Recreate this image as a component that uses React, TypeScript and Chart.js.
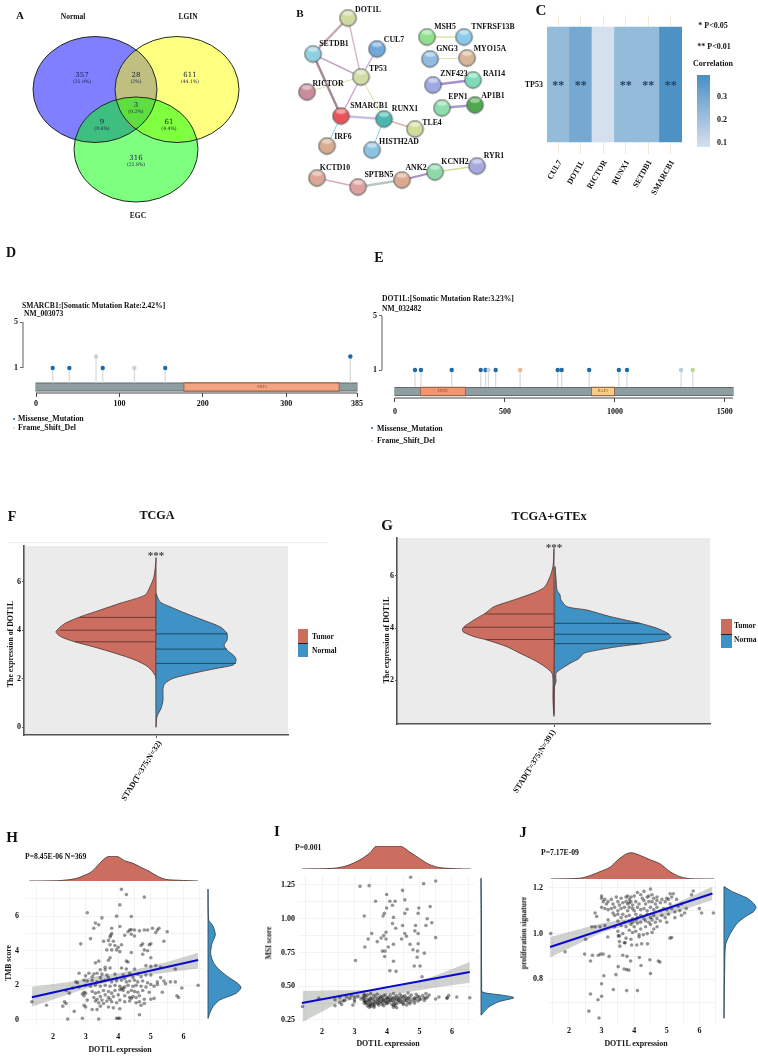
import React, { useEffect, useRef } from "react";
import { Chart, registerables } from "chart.js";

Chart.register(...registerables);

const W = 758;
const H = 1058;
const SERIF = "'Liberation Serif', serif";
const TUMOR = "#cc6e5f";
const NORMAL = "#3e92c6";

/* ---------- A: Venn ---------- */
const vennSets = ["Normal", "LGIN", "EGC"];
const vennCx = [95, 177, 136];
const vennCy = [89.5, 89.5, 149.5];
const vennRx = [62, 62, 62];
const vennRy = [53, 53, 52.5];
const vennFill = ["rgba(0,0,255,.5)", "rgba(255,255,0,.5)", "rgba(0,255,0,.5)"];
const vennCounts = ["357", "28", "611", "3", "9", "61", "316"];
const vennPct = ["(25.9%)", "(2%)", "(44.1%)", "(0.2%)", "(0.6%)", "(4.4%)", "(22.8%)"];
const vennLabelX = [82, 136, 190, 136, 102, 169, 136];
const vennLabelY = [75, 75, 75, 105, 122, 122, 158];

/* ---------- B: network ---------- */
const nodeNames = ["DOT1L", "SETDB1", "CUL7", "TP53", "RICTOR", "SMARCB1", "RUNX1", "TLE4", "IRF6", "HISTH2AD", "KCTD10", "SPTBN5", "ANK2", "KCNH2", "RYR1", "MSH5", "TNFRSF13B", "GNG3", "MYO15A", "ZNF423", "RAI14", "EPN1", "AP1B1"];
const nodeX = [348, 313, 377, 361, 307, 341, 384, 415, 327, 372, 317, 358, 402, 435, 477, 427, 464, 430, 467, 433, 473, 442, 475];
const nodeY = [18, 54, 49, 77, 92, 116, 119, 129, 146, 150, 178, 187, 180, 172, 166, 37, 37, 59, 58, 85, 80, 108, 105];
const nodeColor = ["#cfd9a0", "#8fd0de", "#6fa9dc", "#cfdca5", "#c98c9a", "#e9545c", "#49b7b0", "#cfdc9a", "#d8aa90", "#8cc3e0", "#dba695", "#dca0a0", "#dda890", "#8fd8a8", "#a8a8e0", "#90e090", "#8cc8ea", "#90bce0", "#d8b498", "#a0a8e4", "#7fdcb8", "#8fdcac", "#4ea84e"];
const nodeLabelX = [368, 334, 394, 378, 328, 369, 405, 432, 343, 399, 335, 379, 416, 455, 494, 445, 493, 447, 490, 454, 494, 458, 493];
const nodeLabelY = [10, 44, 40, 69, 84, 106, 109, 123, 137, 142, 168, 175, 168, 162, 156, 27, 27, 49, 49, 74, 74, 97, 96];
const edgeFrom = [0, 0, 1, 2, 1, 4, 3, 3, 5, 6, 5, 6, 10, 11, 12, 13, 15, 17, 19, 21];
const edgeTo = [1, 3, 3, 3, 5, 3, 5, 6, 6, 7, 8, 9, 11, 12, 13, 14, 16, 18, 20, 22];
const edgeColor = ["#c9a7b8", "#d8b4cf", "#c6a6c9", "#d4a9d0", "#a58a9a", "#d8e3a8", "#cfa9cc", "#dfe3a0", "#c9bfe0", "#d7b7a6", "#7fd0e0", "#7fd0e0", "#d9aab8", "#b9c8bc", "#a88fc8", "#d2dc9c", "#d8e4a8", "#dde4a6", "#a58fcf", "#a99bd0"];
const edgeWidth = [2.5, 1.4, 1.4, 1.4, 2.5, 1, 1.4, 1, 2.5, 1.6, 1, 1, 1.4, 2.5, 2.2, 1.4, 1.4, 1, 2.5, 2.5];

/* ---------- C: heatmap ---------- */
const heatGenes = ["CUL7", "DOT1L", "RICTOR", "RUNX1", "SETDB1", "SMARCB1"];
const heatCorr = [0.22, 0.285, 0.085, 0.22, 0.22, 0.37];
const heatStars = ["**", "**", "", "**", "**", "**"];
const heatRow = "TP53";
const corrTicks = [0.1, 0.2, 0.3];

/* ---------- D, E: lollipops ---------- */
const dPos = [20, 40, 72, 80, 118, 155, 377];
const dCount = [1, 1, 2, 1, 1, 1, 2];
const dColor = ["#1f6aa5", "#1f6aa5", "#c9d3d6", "#1f6aa5", "#c9d3d6", "#1f6aa5", "#1f6aa5"];
const dTicks = [0, 100, 200, 300, 385];
const dDomains = [[178, 363]];
const dDomainNames = ["SNF5"];
const dDomainColors = ["#f4a482"];

const ePos = [91, 118, 258, 390, 412, 425, 458, 569, 740, 758, 883, 1018, 1055, 1301, 1354];
const eCount = [1, 1, 1, 1, 1, 1, 1, 1, 1, 1, 1, 1, 1, 1, 1];
const eColor = ["#1f6aa5", "#1f6aa5", "#1f6aa5", "#1f6aa5", "#1f6aa5", "#b9d0e4", "#1f6aa5", "#f3b48a", "#1f6aa5", "#1f6aa5", "#1f6aa5", "#1f6aa5", "#1f6aa5", "#b4cbe4", "#b4d890"];
const eTicks = [0, 500, 1000, 1500];
const eDomains = [[118, 318], [896, 996]];
const eDomainNames = ["DOT1", "RAP1"];
const eDomainColors = ["#f19470", "#f6cd87"];

/* ---------- F, G: violins ---------- */
const fTumorExpr = [7.0, 6.89, 6.21, 5.79, 5.45, 5.11, 4.83, 4.55, 4.28, 3.94, 3.73, 3.52, 3.32, 3.04, 2.77, 2.49, 2.15, 2.0];
const fTumorDensity = [0, 0.0, 0.02, 0.06, 0.11, 0.36, 0.56, 0.76, 0.91, 1.0, 0.95, 0.81, 0.63, 0.4, 0.21, 0.08, 0.01, 0];
const fNormalExpr = [5.52, 5.17, 4.97, 4.69, 4.42, 4.14, 3.87, 3.59, 3.39, 3.18, 2.9, 2.72, 2.56, 2.42, 2.22, 2.01, 1.8, 1.6, 1.11, 0.77, 0.43, 0];
const fNormalDensity = [0, 0.04, 0.14, 0.3, 0.47, 0.64, 0.71, 0.71, 0.68, 0.71, 0.79, 0.8, 0.77, 0.6, 0.37, 0.17, 0.09, 0.07, 0.07, 0.05, 0.01, 0];
const fTumorQ = [4.53, 4.0, 3.52];
const fTumorQw = [0.76, 0.96, 0.81];
const fNormalQ = [3.85, 3.22, 2.63];
const fNormalQw = [0.71, 0.71, 0.8];

const gTumorExpr = [7.06, 6.36, 5.97, 5.59, 5.4, 5.08, 4.82, 4.56, 4.31, 4.01, 3.86, 3.67, 3.54, 3.28, 3.03, 2.77, 2.51, 2.26, 2, 1.23, 0.62];
const gTumorDensity = [0, 0.01, 0.04, 0.09, 0.17, 0.4, 0.6, 0.69, 0.8, 0.91, 0.91, 0.8, 0.67, 0.47, 0.34, 0.2, 0.09, 0.02, 0.01, 0.01, 0];
const gNormalExpr = [6.36, 5.91, 5.46, 5.27, 5.08, 4.82, 4.69, 4.44, 4.18, 3.99, 3.79, 3.64, 3.54, 3.41, 3.28, 3.15, 3.03, 2.83, 2.64, 2.45, 2.26, 1.94, 1.68, 0.72];
const gNormalDensity = [0.01, 0.02, 0.03, 0.06, 0.07, 0.13, 0.33, 0.56, 0.86, 1.03, 1.14, 1.17, 1.12, 0.9, 0.63, 0.43, 0.3, 0.25, 0.16, 0.08, 0.02, 0.02, 0, 0];
const gTumorQ = [4.54, 4.03, 3.56];
const gTumorQw = [0.69, 0.9, 0.68];
const gNormalQ = [4.18, 3.76, 3.4];
const gNormalQw = [0.86, 1.15, 0.88];

/* ---------- H, I, J: scatter ---------- */
const hPoints = [[4.1,7.55],[4.25,7.25],[4.8,7.1],[4.05,6.65],[3.05,6.2],[3.95,6.0],[4.4,5.98],[3.5,5.9],[3.3,5.6],[3.4,5.5],[3.25,5.3],[3.8,5.3],[4.05,5.4],[3.8,5.0],[3.77,4.9],[3.75,4.8],[4.3,5.1],[4.35,5.2],[4.4,5.22],[4.5,5.2],[4.65,5.15],[4.8,5.2],[4.9,5.2],[5.05,5.3],[5.2,5.2],[5.25,5.3],[5.5,5.1],[5.15,5.05],[4.2,4.9],[4.4,4.95],[4.5,4.85],[3.15,4.7],[3.55,4.55],[3.7,4.6],[3.85,4.55],[3.75,4.35],[3.9,4.3],[4.0,4.2],[4.1,4.35],[2.85,4.4],[4.75,4.4],[4.7,4.3],[4.95,4.35],[5.0,4.4],[5.4,4.55],[3.65,4.05],[3.8,4.05],[3.95,4.05],[4.05,3.95],[4.4,3.9],[4.8,4.05],[4.9,4.0],[4.75,3.8],[5.0,3.6],[3.75,3.6],[3.7,3.45],[3.4,3.4],[4.25,3.4],[4.3,3.35],
[3.3,3.3],[3.6,3.05],[3.45,2.9],[3.6,2.9],[3.75,3.0],[4.1,3.0],[4.25,2.95],[4.5,2.95],[4.85,3.15],[5.0,3.1],[5.15,3.15],[5.3,3.05],[5.75,2.95],[3.1,2.7],[3.25,2.65],[3.35,2.7],[3.5,2.65],[3.65,2.6],[3.9,2.65],[4.15,2.6],[4.35,2.7],[4.6,2.65],[4.85,2.6],[2.8,2.7],[3.0,2.55],[3.2,2.5],[3.45,2.45],[3.7,2.45],[3.95,2.4],[4.2,2.4],[4.45,2.45],[4.7,2.5],[5.0,2.6],[5.3,2.45],
[2.7,2.2],[2.75,2.15],[2.95,2.3],[3.05,2.25],[3.2,2.3],[3.35,2.2],[3.5,2.25],[3.6,2.3],[3.8,2.2],[3.95,2.25],[4.1,2.3],[4.25,2.2],[4.35,2.25],[4.5,2.3],[4.6,2.2],[4.75,2.25],[4.9,2.15],[5.2,2.2],[5.4,2.25],[5.6,2.2],[5.75,2.2],[5.0,2.05],[5.2,2.05],[5.45,2.1],[2.4,1.7],[2.6,1.85],[2.8,1.9],[3.0,2.0],[3.15,1.95],[3.3,2.0],[3.45,1.95],[3.6,2.0],[3.75,1.95],[3.9,2.0],[4.05,1.95],[4.15,1.85],[4.2,1.9],[4.3,2.0],[4.45,1.95],[4.55,2.0],[4.7,1.95],[4.85,1.9],[5.1,1.95],[5.95,1.85],[6.45,2.0],
[2.5,1.55],[2.9,1.5],[2.95,1.6],[3.0,1.55],[3.2,1.65],[3.3,1.55],[3.4,1.6],[3.55,1.7],[3.7,1.65],[3.8,1.55],[3.9,1.7],[4.05,1.75],[4.1,1.8],[4.15,1.7],[4.3,1.6],[4.4,1.7],[4.5,1.65],[4.6,1.6],[4.75,1.7],[4.95,1.6],[5.35,1.6],[5.8,1.4],[5.85,1.3],
[2.95,1.4],[3.25,1.3],[3.35,1.2],[3.45,1.35],[3.6,1.45],[3.7,1.3],[3.85,1.35],[4.0,1.45],[4.2,1.4],[4.35,1.3],[4.4,1.25],[4.45,1.35],[4.55,1.3],[4.65,1.4],[4.8,1.2],[5.0,1.2],[5.1,1.25],
[2.35,1.05],[2.4,0.95],[3.05,1.15],[3.3,1.1],[3.4,1.0],[3.5,1.15],[3.55,0.95],[3.65,1.1],[3.75,1.2],[3.8,1.05],[3.95,1.0],[4.05,1.15],[4.2,1.05],[4.35,1.1],[4.55,1.0],[4.65,1.05],[4.7,0.85],[4.8,0.95],[1.35,1.05],[1.8,0.85],[2.3,0.8],
[2.65,0.5],[2.95,0.85],[3.0,0.75],[3.2,0.6],[3.35,0.6],[3.45,0.8],[3.7,0.75],[3.85,0.7],[4.05,0.65],[4.65,0.3],[2.45,0.05],[2.9,0.1],[3.4,0.05],[3.95,0.1],[4.0,0.1],[4.05,0.1]];
const hLineX = [1.35, 6.45];
const hLineY = [1.31, 3.47];
const hBandX = [1.35, 2.5, 3.5, 4, 4.5, 5.5, 6.45];
const hBandUp = [1.92, 2.2, 2.6, 2.7, 2.9, 3.35, 3.88];
const hBandLo = [0.77, 1.5, 2.1, 2.3, 2.5, 2.75, 2.98];
const hTopX = [1.27, 2.1, 2.4, 2.7, 3.12, 3.3, 3.5, 3.68, 3.99, 4.2, 4.45, 4.7, 4.95, 5.2, 5.45, 5.85, 6.45];
const hTopD = [0, 0.01, 0.04, 0.1, 0.33, 0.53, 0.83, 1, 1, 0.83, 0.73, 0.56, 0.4, 0.2, 0.07, 0.03, 0];
const hSideY = [7.56, 5.77, 5.58, 5.29, 4.9, 4.42, 3.85, 3.37, 2.98, 2.5, 2.12, 1.87, 1.54, 1.15, 0.77, 0.38, 0.1];
const hSideD = [0, 0.02, 0.1, 0.18, 0.22, 0.12, 0.08, 0.15, 0.3, 0.6, 0.9, 1, 0.85, 0.35, 0.15, 0.05, 0];

const iPoints = [[4.73,1.307],[5.5,1.28],[5.13,1.26],[3.17,1.24],[3.45,1.245],[4.48,1.21],[3.99,1.18],[4.55,1.14],[3.65,1.13],[4.09,1.13],[4.25,1.13],[4.17,1.1],[3.99,1.08],[4.98,1.08],[5.33,1.09],[4.62,1.07],[4.55,1.04],[4.96,1.04],[3.92,1.04],[3.3,1.02],[3.88,1.02],[4.2,1.01],[5.24,1.0],[5.38,0.97],[5.2,0.95],[4.17,0.965],[4.48,0.95],[4.88,0.95],[4.27,0.93],[4.86,0.91],[3.53,0.89],[3.97,0.9],[4.55,0.89],[4.96,0.89],[3.9,0.875],[3.82,0.857],[3.42,0.85],[3.97,0.85],[4.45,0.85],[4.6,0.87],[5.5,0.86],[3.7,0.83],[4.71,0.81],[4.96,0.815],[4.2,0.81],[3.32,0.79],[4.04,0.79],[3.86,0.76],[3.94,0.76],[4.8,0.77],[4.94,0.76],[5.15,0.745],[3.93,0.72],[4.93,0.715],[4.2,0.685],[3.03,0.69],[4.84,0.65],[5.02,0.65],[4.09,0.615],[4.28,0.61],[5.08,0.57],
[3.3,0.44],[3.5,0.445],[3.7,0.44],[3.95,0.435],[4.2,0.445],[4.4,0.44],[4.65,0.45],[4.9,0.44],[5.2,0.445],
[2.9,0.43],[3.1,0.425],[3.3,0.43],[3.4,0.435],[3.6,0.43],[3.8,0.425],[3.9,0.43],[4.1,0.435],[4.3,0.43],[4.45,0.425],[4.55,0.43],[4.75,0.435],[4.95,0.425],[5.1,0.43],[5.3,0.435],[5.9,0.43],
[2.55,0.415],[2.75,0.42],[3.0,0.42],[3.25,0.415],[3.35,0.42],[3.5,0.415],[3.65,0.42],[3.75,0.415],[3.85,0.42],[4.0,0.415],[4.05,0.42],[4.15,0.415],[4.25,0.42],[4.35,0.415],[4.5,0.42],[4.6,0.415],[4.7,0.42],[4.85,0.415],[5.0,0.42],[5.15,0.415],[5.25,0.42],[5.6,0.42],[5.85,0.415],[6.15,0.42],[6.55,0.415],
[2.85,0.41],[3.2,0.405],[3.3,0.41],[3.45,0.405],[3.55,0.41],[3.7,0.405],[3.8,0.41],[3.9,0.405],[4.0,0.41],[4.1,0.405],[4.2,0.41],[4.3,0.405],[4.4,0.41],[4.55,0.405],[4.65,0.41],[4.8,0.405],[4.9,0.41],[5.05,0.405],[5.2,0.41],[5.5,0.405],[5.85,0.41],
[2.4,0.4],[2.7,0.395],[3.0,0.4],[3.3,0.395],[3.4,0.4],[3.5,0.395],[3.6,0.4],[3.75,0.395],[3.85,0.4],[3.95,0.395],[4.05,0.4],[4.15,0.395],[4.25,0.4],[4.35,0.395],[4.45,0.4],[4.6,0.395],[4.7,0.4],[4.85,0.395],[5.0,0.4],[5.15,0.395],
[2.65,0.39],[3.0,0.385],[3.3,0.39],[3.35,0.385],[3.45,0.39],[3.6,0.385],[3.7,0.39],[3.8,0.385],[3.9,0.39],[4.0,0.385],[4.1,0.39],[4.2,0.385],[4.35,0.39],[4.45,0.385],[4.55,0.39],[4.75,0.385],[4.95,0.39],
[2.55,0.38],[3.3,0.375],[3.4,0.38],[3.5,0.375],[3.65,0.38],[3.75,0.375],[3.85,0.38],[3.95,0.375],[4.05,0.38],[4.25,0.375],[4.4,0.38],[4.5,0.375],[4.65,0.38],[4.85,0.375],
[2.6,0.365],[3.35,0.37],[3.45,0.365],[3.55,0.37],[3.6,0.365],[3.7,0.37],[3.85,0.365],[4.0,0.37],[4.15,0.365],[4.3,0.37],[4.5,0.365],[4.7,0.37],
[2.4,0.355],[2.95,0.36],[3.4,0.355],[3.5,0.36],[3.6,0.355],[3.75,0.36],[3.9,0.355],[4.2,0.36],[4.25,0.355],[4.6,0.36],
[1.4,0.35],[3.45,0.345],[3.5,0.35],[3.6,0.345],[4.2,0.345],[4.3,0.34],[1.9,0.41]];
const iLineX = [1.38, 6.55];
const iLineY = [0.376, 0.605];
const iBandX = [1.4, 2.5, 3.5, 4, 4.5, 5.5, 6.55];
const iBandUp = [0.465, 0.47, 0.47, 0.48, 0.505, 0.58, 0.68];
const iBandLo = [0.235, 0.375, 0.43, 0.44, 0.45, 0.49, 0.525];
const iTopX = [1.385, 2.35, 2.76, 3.17, 3.48, 3.68, 4.4, 4.7, 5.0, 5.3, 5.63, 6.14, 6.58];
const iTopD = [0, 0.03, 0.14, 0.4, 0.71, 1, 1, 0.74, 0.46, 0.2, 0.06, 0.01, 0];
const iSideY = [1.3, 1.0, 0.75, 0.5, 0.46, 0.448, 0.435, 0.415, 0.386, 0.349, 0.311, 0.287];
const iSideD = [0, 0.015, 0.015, 0.02, 0.03, 0.18, 0.6, 1, 0.55, 0.25, 0.09, 0];

const jPoints = [[2.92,0.63],[2.61,0.66],[2.89,0.71],[3.0,0.725],[2.66,0.735],[3.36,0.755],[3.77,0.75],[4.1,0.75],[3.0,0.78],[3.07,0.815],[3.44,0.82],[4.5,0.825],[3.51,0.855],[3.69,0.845],[3.77,0.842],[3.84,0.84],[4.21,0.86],[4.48,0.885],[4.74,0.88],[4.79,0.875],[3.89,0.88],[2.66,0.88],[2.48,0.91],[2.72,0.905],[2.9,0.905],[2.97,0.91],[3.05,0.91],[3.23,0.9],[3.65,0.905],[3.78,0.9],[4.16,0.895],[1.88,0.92],[1.44,1.0],[2.51,0.975],[3.56,0.945],[3.92,0.95],[4.08,0.95],[4.23,0.955],[4.41,0.955],[3.72,0.96],[3.19,0.985],[3.51,0.99],[4.28,0.995],[5.1,0.98],[5.15,0.983],
[6.43,1.09],[6.07,1.09],[5.81,1.187],[5.76,1.17],[6.0,1.11],[5.6,1.11],[5.45,1.08],
[4.3,1.185],[4.5,1.195],[4.1,1.18],[4.55,1.17],[5.1,1.175],[5.2,1.175],[5.15,1.16],
[3.0,1.165],[3.0,1.155],[3.1,1.15],[3.3,1.15],[3.45,1.16],[3.6,1.155],[3.75,1.16],[3.8,1.165],[3.85,1.15],[3.9,1.16],[4.0,1.165],[4.2,1.17],[4.25,1.155],[4.4,1.16],[4.45,1.165],[4.6,1.155],[4.7,1.16],[4.85,1.15],[5.0,1.155],[5.05,1.15],[5.3,1.15],
[3.05,1.14],[3.15,1.13],[3.2,1.14],[3.35,1.13],[3.5,1.14],[3.55,1.125],[3.65,1.135],[3.75,1.14],[3.8,1.13],[3.85,1.135],[3.9,1.14],[3.95,1.125],[4.05,1.14],[4.15,1.13],[4.3,1.145],[4.35,1.13],[4.45,1.14],[4.55,1.14],[4.65,1.13],[4.7,1.145],[4.8,1.135],[4.95,1.14],[5.1,1.13],[5.35,1.12],[5.45,1.13],
[3.0,1.115],[3.1,1.11],[3.2,1.105],[3.3,1.11],[3.4,1.115],[3.5,1.1],[3.6,1.11],[3.7,1.115],[3.8,1.1],[3.85,1.115],[3.95,1.11],[4.0,1.1],[4.1,1.115],[4.2,1.105],[4.3,1.11],[4.4,1.1],[4.5,1.115],[4.6,1.105],[4.7,1.115],[4.8,1.1],[4.9,1.11],[5.0,1.105],[5.15,1.11],[5.25,1.095],[5.4,1.1],[5.55,1.09],[2.8,1.09],[2.85,1.075],[3.35,1.09],
[3.4,1.08],[3.5,1.085],[3.6,1.07],[3.65,1.085],[3.75,1.075],[3.85,1.08],[3.95,1.065],[4.05,1.085],[4.1,1.07],[4.2,1.08],[4.3,1.065],[4.4,1.085],[4.5,1.07],[4.6,1.08],[4.7,1.065],[4.85,1.08],[4.95,1.07],[5.05,1.085],[5.25,1.07],[3.2,1.06],[3.5,1.055],[3.7,1.05],[3.85,1.055],[3.95,1.05],[4.05,1.06],[4.2,1.05],[4.35,1.055],[4.45,1.05],[4.55,1.06],[4.65,1.05],[4.8,1.055],[5.0,1.05],
[2.7,1.03],[2.8,1.03],[2.95,1.03],[3.1,1.035],[3.4,1.03],[3.6,1.035],[3.75,1.03],[3.9,1.04],[4.0,1.03],[4.1,1.045],[4.2,1.02],[4.35,1.03],[4.5,1.04],[4.6,1.02],[4.7,1.03],[3.5,1.01],[3.65,1.0],[3.85,1.015],[3.95,1.005],[4.05,1.01],[4.15,0.995],[4.4,1.0],[4.55,1.005],[3.55,0.99],[3.75,0.98],[3.9,0.975],[3.55,0.965],[3.7,0.96],[4.15,0.985]];
const jLineX = [1.42, 6.4];
const jLineY = [0.941, 1.176];
const jBandX = [1.42, 3, 4, 5, 6.4];
const jBandUp = [0.985, 1.045, 1.07, 1.115, 1.205];
const jBandLo = [0.895, 1.005, 1.045, 1.08, 1.147];
const jTopX = [1.44, 2.34, 2.65, 2.95, 3.26, 3.51, 3.77, 3.94, 4.18, 4.48, 4.79, 5.1, 5.4, 5.71, 6.46];
const jTopD = [0, 0.03, 0.13, 0.28, 0.45, 0.74, 0.96, 1, 0.9, 0.74, 0.58, 0.28, 0.09, 0.01, 0];
const jSideY = [1.206, 1.184, 1.155, 1.133, 1.115, 1.096, 1.074, 1.045, 1.001, 0.957, 0.914, 0.84, 0.767, 0.631];
const jSideD = [0, 0.26, 0.73, 0.92, 1, 0.92, 0.66, 0.41, 0.2, 0.06, 0.03, 0.02, 0.01, 0];
const xExprTicks = [1.5, 2, 2.5, 3, 3.5, 4, 4.5, 5, 5.5, 6, 6.5];

/* ---------- chart plumbing ---------- */
type Rect = { x: number; y: number; w: number; h: number };
const tickFont = (size = 8) => ({ family: SERIF, weight: "bold" as const, size });

function xAxis(r: Rect, min: number | undefined, max: number | undefined, vals: number[] | null, o: any = {}) {
  return {
    type: "linear", min, max, display: true,
    afterFit: (s: any) => { s.height = H - r.y - r.h; },
    afterBuildTicks: (s: any) => { if (vals) s.ticks = vals.map((value) => ({ value })); },
    grid: { display: false, drawTicks: false, ...(o.grid || {}) },
    border: { display: false, ...(o.border || {}) },
    ticks: { display: false, autoSkip: false, maxRotation: 0, font: tickFont(), color: "#111", ...(o.ticks || {}) },
  };
}
function yAxis(r: Rect, min: number, max: number, vals: number[] | null, o: any = {}, right = false) {
  return {
    type: "linear", min, max, display: true, reverse: !!o.reverse,
    position: right ? "right" : "left",
    afterFit: (s: any) => { s.width = right ? W - r.x - r.w : r.x; },
    afterBuildTicks: (s: any) => { if (vals) s.ticks = vals.map((value) => ({ value })); },
    grid: { display: false, drawTicks: false, ...(o.grid || {}) },
    border: { display: false, ...(o.border || {}) },
    ticks: { display: false, autoSkip: false, font: tickFont(), color: "#111", ...(o.ticks || {}) },
  };
}
function base(r: Rect, x: any, y: any, right = false) {
  return {
    responsive: false, animation: false, devicePixelRatio: 1, events: [],
    layout: { autoPadding: false, padding: { top: r.y, bottom: 0, left: right ? r.x : 0, right: right ? 0 : W - r.x - r.w } },
    plugins: { legend: { display: false }, tooltip: { enabled: false } },
    scales: { x, y },
  };
}
const zip = (xs: number[], ys: number[]) => xs.map((x, i) => ({ x, y: ys[i] }));
const seg = (data: any[], color: string, width: number, extra: any = {}) => ({ data, showLine: true, borderColor: color, borderWidth: width, pointRadius: 0, clip: false, ...extra });

/* ---------- chart factories ---------- */
function vennChart() {
  const r = { x: 0, y: 0, w: 260, h: 230 };
  const ellipses = {
    id: "ellipses",
    afterDatasetsDraw(c: any) {
      const { x, y } = c.scales; const ctx = c.ctx;
      const path = (i: number) => {
        ctx.beginPath();
        ctx.ellipse(x.getPixelForValue(vennCx[i]), y.getPixelForValue(vennCy[i]),
          x.getPixelForValue(vennRx[i]) - x.getPixelForValue(0), y.getPixelForValue(vennRy[i]) - y.getPixelForValue(0), 0, 0, 7);
      };
      vennSets.forEach((_, i) => { path(i); ctx.fillStyle = vennFill[i]; ctx.fill(); });
      vennSets.forEach((_, i) => { path(i); ctx.strokeStyle = "#1e2a1e"; ctx.lineWidth = 1; ctx.stroke(); });
    },
  };
  return {
    type: "scatter",
    data: { datasets: [{ data: zip(vennCx, vennCy), pointRadius: 0 }] },
    options: base(r, xAxis(r, 0, 260, null), yAxis(r, 0, 230, null, { reverse: true })),
    plugins: [ellipses],
  };
}

function sprite(color: string) {
  const c = document.createElement("canvas");
  c.width = c.height = 19;
  const g = c.getContext("2d")!;
  g.beginPath(); g.arc(9.5, 9.5, 8.3, 0, 7);
  const rg = g.createRadialGradient(9.5, 8, 1, 9.5, 9.5, 9);
  rg.addColorStop(0, color); rg.addColorStop(0.75, color); rg.addColorStop(1, "#6f7a78");
  g.fillStyle = rg; g.fill();
  g.strokeStyle = "rgba(60,70,70,.75)"; g.lineWidth = 1; g.stroke();
  g.beginPath(); g.ellipse(9.5, 5, 5, 2.4, 0, 0, 7);
  g.fillStyle = "rgba(255,255,255,.45)"; g.fill();
  return c;
}
function networkChart() {
  const r = { x: 260, y: 0, w: 270, h: 210 };
  const sprites = nodeColor.map(sprite);
  const edges = edgeFrom.map((a, i) => seg(
    [{ x: nodeX[a], y: nodeY[a] }, { x: nodeX[edgeTo[i]], y: nodeY[edgeTo[i]] }], edgeColor[i], edgeWidth[i], { order: 2 }));
  return {
    type: "scatter",
    data: {
      datasets: [
        { data: zip(nodeX, nodeY), order: 1, pointStyle: sprites, pointRadius: 9 },
        ...edges,
      ],
    },
    options: base(r, xAxis(r, 260, 530, null), yAxis(r, 0, 210, null, { reverse: true })),
  };
}

const heatShade = (v: number) => {
  const t = (v - 0.08) / 0.3;
  return `rgb(${Math.round(215 - 142 * t)},${Math.round(225 - 82 * t)},${Math.round(240 - 45 * t)})`;
};
function heatChart() {
  const r = { x: 547, y: 15.5, w: 135, h: 138 };
  return {
    type: "bar",
    data: {
      labels: heatGenes,
      datasets: [{
        data: heatGenes.map(() => [0, 1]),
        backgroundColor: heatCorr.map(heatShade),
        barPercentage: 1, categoryPercentage: 1, borderWidth: 0,
      }],
    },
    options: base(r,
      {
        type: "category", display: true,
        afterFit: (s: any) => { s.height = H - r.y - r.h; },
        grid: { display: true, offset: false, drawTicks: false, color: "#f1e8da" },
        border: { display: false },
        ticks: { font: tickFont(8), color: "#111", minRotation: 60, maxRotation: 60, autoSkip: false, padding: 5, labelOffset: 2 },
      },
      yAxis(r, -0.1, 1.1, [0.5], { ticks: { display: true, padding: 4, callback: () => heatRow, font: tickFont(8) } })),
  };
}
function colorbarChart() {
  const r = { x: 697, y: 75, w: 13, h: 72 };
  return {
    type: "bar",
    data: {
      labels: ["Correlation"],
      datasets: [{
        data: [[0.083, 0.396]],
        barPercentage: 1, categoryPercentage: 1, borderWidth: 0,
        backgroundColor: (ctx: any) => {
          const g = ctx.chart.ctx.createLinearGradient(0, r.y + r.h, 0, r.y);
          g.addColorStop(0, heatShade(0.083));
          g.addColorStop(1, heatShade(0.38));
          return g;
        },
      }],
    },
    options: base(r,
      { type: "category", display: true, afterFit: (s: any) => { s.height = H - r.y - r.h; }, grid: { display: false, drawTicks: false }, border: { display: false }, ticks: { display: false } },
      yAxis(r, 0.083, 0.396, corrTicks, { ticks: { display: true, padding: 7, callback: (v: number) => v.toFixed(1), font: tickFont(8) } }, true), true),
  };
}

function lollipop(r: Rect, xMin: number, xMax: number, yMin: number, yMax: number, geneEnd: number, barY: number, stemBase: number, pos: number[], counts: number[], colors: string[], ticks: number[], domains: number[][], domainColors: string[], labelPad: number) {
  const stems: any[] = [];
  pos.forEach((p, i) => { stems.push({ x: p, y: stemBase }, { x: p, y: counts[i] }, { x: null, y: null }); });
  const unit = (xMax - xMin) / r.w;
  const datasets: any[] = [
    { data: pos.map((p, i) => ({ x: p, y: counts[i] })), pointBackgroundColor: colors, pointBorderWidth: 0, pointRadius: 2.2, order: 1, clip: false },
    seg(stems, "#d7dddd", 1.3, { order: 2, spanGaps: false }),
    seg([{ x: xMin, y: 1 }, { x: xMin, y: 5 }], "#777", 1.2, { order: 3 }),
    seg([{ x: 0, y: yMin }, { x: geneEnd, y: yMin }], "#444", 1, { order: 3 }),
  ];
  domains.forEach((d, i) => {
    datasets.push(seg([{ x: d[0], y: barY }, { x: d[1], y: barY }], domainColors[i], 7, { order: 4 }));
    datasets.push(seg([{ x: d[0] - unit, y: barY }, { x: d[1] + unit, y: barY }], "#9a6a4a", 9.5, { order: 5 }));
  });
  datasets.push(seg([{ x: 0, y: barY }, { x: geneEnd, y: barY }], "#8e9ea0", 7, { order: 6 }));
  datasets.push(seg([{ x: -unit * 0.5, y: barY }, { x: geneEnd + unit * 0.5, y: barY }], "#5d6b6d", 9, { order: 7 }));
  return {
    type: "scatter",
    data: { datasets },
    options: base(r,
      xAxis(r, xMin, xMax, ticks, { grid: { display: true, drawOnChartArea: false, drawTicks: true, tickLength: 4, color: "#444" }, ticks: { display: true, padding: labelPad, callback: (v: number) => String(v), font: tickFont(8) } }),
      yAxis(r, yMin, yMax, [1, 5], { grid: { display: true, drawOnChartArea: false, drawTicks: true, tickLength: 3, color: "#666" }, ticks: { display: true, padding: 2, callback: (v: number) => String(v), font: tickFont(8) } })),
  };
}

function violin(r: Rect, xMin: number, xMax: number, yMin: number, yMax: number, label: string, labelShift: number, tE: number[], tD: number[], nE: number[], nD: number[], tQ: number[], tQw: number[], nQ: number[], nQw: number[], yTicks: number[]) {
  const shape = (e: number[], d: number[], side: number, color: string, order: number) => {
    const pts = e.map((y, i) => ({ x: side * d[i], y }));
    return seg([...pts, pts[0]], "#5b3f3c", 0.9, { backgroundColor: color, fill: "shape", tension: 0.25, order, clip: false });
  };
  const quart = (q: number[], w: number[], side: number, color: string) =>
    q.map((y, i) => seg([{ x: 0, y }, { x: side * w[i], y }], color, 1, { order: 1 }));
  const bg = {
    id: "panelBg",
    beforeDraw(c: any) {
      const a = c.chartArea; c.ctx.fillStyle = "#ebebeb"; c.ctx.fillRect(a.left, a.top, a.right - a.left, a.bottom - a.top);
    },
  };
  return {
    type: "scatter",
    data: {
      datasets: [
        ...quart(tQ, tQw, -1, "#6a3a36"),
        ...quart(nQ, nQw, 1, "#1f4a68"),
        shape(tE, tD, -1, TUMOR, 3),
        shape(nE, nD, 1, NORMAL, 2),
      ],
    },
    options: base(r,
      xAxis(r, xMin, xMax, [0], {
        grid: { display: true, drawOnChartArea: false, drawTicks: true, tickLength: 3, color: "#555" },
        border: { display: true, color: "#555", width: 1.6 },
        ticks: { display: true, padding: 1, minRotation: 58, maxRotation: 58, labelOffset: labelShift, callback: () => label, font: tickFont(8) },
      }),
      yAxis(r, yMin, yMax, yTicks, {
        grid: { display: true, drawOnChartArea: false, drawTicks: true, tickLength: 2, color: "#555" },
        border: { display: true, color: "#555", width: 1.6 },
        ticks: { display: true, padding: 1, callback: (v: number) => String(v), font: tickFont(8) },
      })),
    plugins: [bg],
  };
}

function scatterMain(r: Rect, xMin: number, xMax: number, yMin: number, yMax: number, yTicks: number[], yLabel: (v: number) => string, yPad: number, xPad: number, pts: number[][], lx: number[], ly: number[], bx: number[], up: number[], lo: number[]) {
  const gridLine = { display: true, drawTicks: false, color: "#f0f0f0", lineWidth: 0.8 };
  return {
    type: "scatter",
    data: {
      datasets: [
        seg(zip(lx, ly), "#0a0acd", 2, { order: 0 }),
        { data: pts.map(([x, y]) => ({ x, y })), backgroundColor: "rgba(0,0,0,.42)", borderWidth: 0, pointRadius: 1.8, order: 1 },
        seg(zip(bx, up), "rgba(0,0,0,0)", 0, { fill: "+1", backgroundColor: "rgba(110,115,110,.32)", order: 2 }),
        seg(zip(bx, lo), "rgba(0,0,0,0)", 0, { order: 3 }),
      ],
    },
    options: base(r,
      xAxis(r, xMin, xMax, xExprTicks, { grid: gridLine, ticks: { display: true, padding: xPad, callback: (v: number) => (v % 1 === 0 ? String(v) : ""), font: tickFont(8) } }),
      yAxis(r, yMin, yMax, yTicks, { grid: gridLine, ticks: { display: true, padding: yPad, callback: yLabel, font: tickFont(8) } })),
  };
}
function margTop(r: Rect, xMin: number, xMax: number, xs: number[], ds: number[], yMax = 1.03) {
  return {
    type: "scatter",
    data: { datasets: [seg(zip(xs, ds), "#4f3d3a", 0.9, { fill: "origin", backgroundColor: TUMOR, tension: 0.3, clip: true })] },
    options: base(r, xAxis(r, xMin, xMax, null), yAxis(r, 0, yMax, null)),
  };
}
function margSide(r: Rect, yMin: number, yMax: number, ys: number[], ds: number[]) {
  const pts = ys.map((y, i) => ({ x: ds[i], y }));
  return {
    type: "scatter",
    data: { datasets: [seg([...pts, pts[0]], "#2f4858", 0.9, { fill: "shape", backgroundColor: NORMAL, tension: 0.25 })] },
    options: base(r, xAxis(r, 0, 1.03, null), yAxis(r, yMin, yMax, null)),
  };
}

const hMain = { x: 25, y: 885, w: 178, h: 140 };
const iMain = { x: 298, y: 875, w: 176, h: 149 };
const jMain = { x: 548, y: 880, w: 168, h: 143 };

const chartFactories: (() => any)[] = [
  vennChart,
  networkChart,
  heatChart,
  colorbarChart,
  () => lollipop({ x: 23, y: 320, w: 334, h: 73 }, -15.6, 385, -1.174, 5.174, 385, -0.652, -0.304, dPos, dCount, dColor, dTicks, dDomains, dDomainColors, 2),
  () => lollipop({ x: 382, y: 314, w: 351, h: 84 }, -59, 1537, -1.074, 5.148, 1537, -0.593, -0.259, ePos, eCount, eColor, eTicks, eDomains, eDomainColors, 5),
  () => violin({ x: 24, y: 546, w: 264, h: 189 }, -1.32, 1.32, -0.33, 7.48, "STAD(T=375;N=32)", 4, fTumorExpr, fTumorDensity, fNormalExpr, fNormalDensity, fTumorQ, fTumorQw, fNormalQ, fNormalQw, [0, 2, 4, 6]),
  () => violin({ x: 397, y: 538, w: 313, h: 186 }, -1.57, 1.56, 0.31, 7.46, "STAD(T=375;N=391)", 0, gTumorExpr, gTumorDensity, gNormalExpr, gNormalDensity, gTumorQ, gTumorQw, gNormalQ, gNormalQw, [2, 4, 6]),
  () => scatterMain(hMain, 1.14, 6.6, -0.29, 7.8, [0, 1, 2, 3, 4, 5, 6, 7], (v) => (v % 2 === 0 ? String(v) : ""), 6, 7, hPoints, hLineX, hLineY, hBandX, hBandUp, hBandLo),
  () => margTop({ x: 25, y: 856, w: 178, h: 25 }, 1.14, 6.6, hTopX, hTopD),
  () => margSide({ x: 208, y: 885, w: 34, h: 140 }, -0.29, 7.8, hSideY, hSideD),
  () => scatterMain(iMain, 1.26, 6.68, 0.22, 1.324, [0.25, 0.375, 0.5, 0.625, 0.75, 0.875, 1, 1.125, 1.25], (v) => ((v * 4) % 1 === 0 ? v.toFixed(2) : ""), 3, 3, iPoints, iLineX, iLineY, iBandX, iBandUp, iBandLo),
  () => margTop({ x: 298, y: 846, w: 176, h: 23 }, 1.26, 6.68, iTopX, iTopD, 1),
  () => margSide({ x: 481, y: 875, w: 34, h: 149 }, 0.22, 1.324, iSideY, iSideD),
  () => scatterMain(jMain, 1.356, 6.51, 0.608, 1.235, [0.7, 0.8, 0.9, 1.0, 1.1, 1.2], (v) => (Math.round(v * 10) % 2 === 0 ? v.toFixed(1) : ""), 5, 3, jPoints, jLineX, jLineY, jBandX, jBandUp, jBandLo),
  () => margTop({ x: 548, y: 852, w: 168, h: 27 }, 1.356, 6.51, jTopX, jTopD),
  () => margSide({ x: 724, y: 880, w: 33, h: 143 }, 0.608, 1.235, jSideY, jSideD),
];

/* ---------- DOM pieces ---------- */
function Layer({ make }: { make: () => any }) {
  const ref = useRef<HTMLCanvasElement>(null);
  useEffect(() => {
    const c = new Chart(ref.current!, make());
    return () => c.destroy();
  }, []);
  return <canvas ref={ref} width={W} height={H} style={{ position: "absolute", left: 0, top: 0, width: W, height: H, display: "block" }} />;
}
function T({ x, y, s = 8, a = "c", r = 0, c = "#111", w = 700, f = SERIF, children }: any) {
  const tr = (a === "c" ? "translate(-50%,-50%)" : "translate(0,-50%)") + (r ? ` rotate(${r}deg)` : "");
  return <div style={{ position: "absolute", left: x, top: y, transform: tr, fontFamily: f, fontSize: s, fontWeight: w, color: c, whiteSpace: "nowrap", lineHeight: 1 }}>{children}</div>;
}
function Block({ x, y, w, h, c }: any) {
  return <div style={{ position: "absolute", left: x, top: y, width: w, height: h, background: c }} />;
}
function Dot({ x, y, c }: any) {
  return <div style={{ position: "absolute", left: x - 1.3, top: y - 1.3, width: 2.6, height: 2.6, borderRadius: 2, background: c }} />;
}

export default function App() {
  document.body.style.margin = "0";
  const letters: [string, number, number, number][] = [["A", 20, 15, 11], ["B", 300, 13, 11], ["C", 541, 10, 15], ["D", 11, 253, 14], ["E", 379, 258, 14], ["F", 12, 517, 14], ["G", 387, 525, 15], ["H", 12, 837, 15], ["I", 277, 831, 15], ["J", 523, 832, 15]];
  const vennX = [73, 188, 138];
  const vennY = [17, 17, 216];
  return (
    <div style={{ position: "absolute", left: 0, top: 0, width: W, height: H, overflow: "hidden", background: "#fff" }}>
      {chartFactories.map((make, i) => <Layer key={i} make={make} />)}

      {letters.map(([t, x, y, s]) => <T key={t} x={x} y={y} s={s}>{t}</T>)}

      {vennSets.map((t, i) => <T key={t} x={vennX[i]} y={vennY[i]} s={7.5}>{t}</T>)}
      {vennCounts.map((t, i) => <T key={i} x={vennLabelX[i]} y={vennLabelY[i]} s={7} w={400} c="#141b45" f="'DejaVu Serif', serif">{t}</T>)}
      {vennPct.map((t, i) => <T key={i} x={vennLabelX[i]} y={vennLabelY[i] + 6.5} s={4.6} w={400} c="#141b45" f="'DejaVu Serif', serif">{t}</T>)}

      {nodeNames.map((t, i) => <T key={t} x={nodeLabelX[i]} y={nodeLabelY[i]} s={7.8}>{t}</T>)}

      {heatStars.map((t, i) => <T key={i} x={547 + 22.5 * (i + 0.5)} y={85} s={12} c="#23415f">{t}</T>)}
      <T x={713} y={26} s={8}>* P&lt;0.05</T>
      <T x={714} y={47} s={8}>** P&lt;0.01</T>
      <T x={713} y={64} s={8}>Correlation</T>

      <T x={22} y={306} a="l" s={7.6}>SMARCB1:[Somatic Mutation Rate:2.42%]</T>
      <T x={24} y={314} a="l" s={7.6}>NM_003073</T>
      <T x={262} y={386.5} s={4} w={400} c="#8a3a25">{dDomainNames[0]}</T>
      <Dot x={14} y={419} c="#1f6aa5" />
      <Dot x={14} y={428} c="#c9d3d6" />
      <T x={18} y={419} a="l" s={7.9}>Missense_Mutation</T>
      <T x={18} y={428} a="l" s={7.9}>Frame_Shift_Del</T>

      <T x={382} y={299} a="l" s={7.6}>DOT1L:[Somatic Mutation Rate:3.23%]</T>
      <T x={382} y={309} a="l" s={7.6}>NM_032482</T>
      <T x={443} y={391} s={4} w={400} c="#8a3a25">{eDomainNames[0]}</T>
      <T x={603} y={391} s={4} w={400} c="#8a3a25">{eDomainNames[1]}</T>
      <Dot x={372} y={428} c="#1f6aa5" />
      <Dot x={372} y={441} c="#c9d3d6" />
      <T x={377} y={429} a="l" s={7.9}>Missense_Mutation</T>
      <T x={377} y={441} a="l" s={7.9}>Frame_Shift_Del</T>

      <T x={157} y={515} s={12.2}>TCGA</T>
      <Block x={8} y={541.5} w={320} h={1} c="#eeeeee" />
      <T x={156} y={555} s={11} c="#444">***</T>
      <T x={11} y={644} r={-90} s={7.8}>The expression of DOT1L</T>
      <Block x={298} y={629} w={10} h={14} c={TUMOR} />
      <Block x={298} y={643} w={10} h={14} c={NORMAL} />
      <Block x={298} y={642.5} w={10} h={1} c="#222" />
      <T x={312} y={637} a="l" s={7.5}>Tumor</T>
      <T x={312} y={651} a="l" s={7.5}>Normal</T>

      <T x={549} y={516} s={12.4}>TCGA+GTEx</T>
      <T x={554} y={547} s={11} c="#444">***</T>
      <T x={387} y={640} r={-90} s={7.8}>The expression of DOT1L</T>
      <Block x={721} y={619} w={11} h={15} c={TUMOR} />
      <Block x={721} y={634} w={11} h={14} c={NORMAL} />
      <Block x={721} y={633.5} w={11} h={1} c="#222" />
      <T x={734} y={626} a="l" s={7.5}>Tumor</T>
      <T x={734} y={640} a="l" s={7.5}>Norma</T>

      <T x={25} y={857} a="l" s={7.7}>P=8.45E-06 N=369</T>
      <T x={120} y={1050} s={7.9}>DOT1L expression</T>
      <T x={9} y={963} r={-90} s={7.5}>TMB score</T>

      <T x={295} y={848} a="l" s={7.7}>P=0.001</T>
      <T x={388} y={1044} s={7.9}>DOT1L expression</T>
      <T x={269} y={943} r={-90} s={7.5}>MSI score</T>

      <T x={541} y={853} a="l" s={7.7}>P=7.17E-09</T>
      <T x={636} y={1044} s={7.9}>DOT1L expression</T>
      <T x={524} y={933} r={-90} s={7.5}>proliferation signature</T>
    </div>
  );
}
